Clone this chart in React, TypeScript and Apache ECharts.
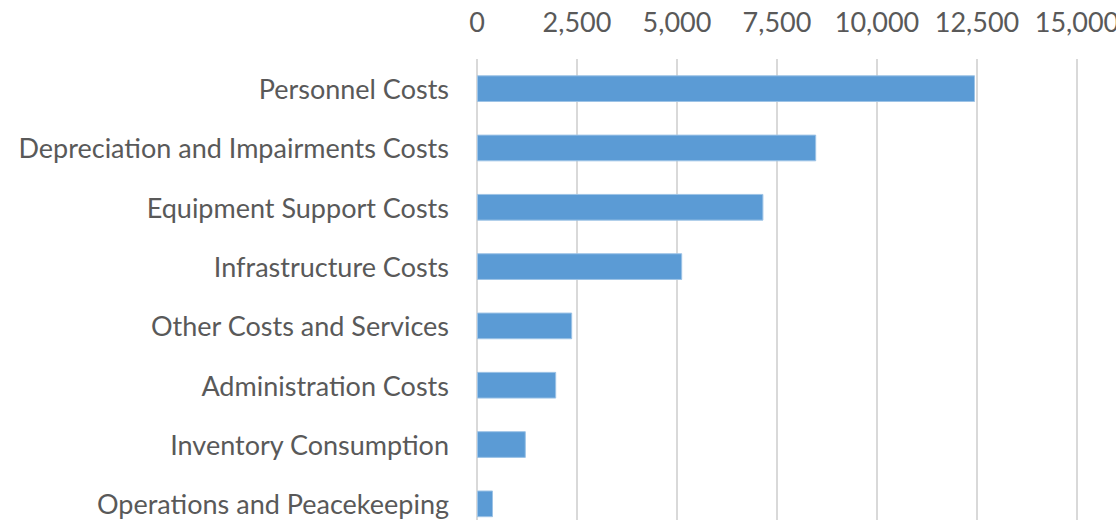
import React, { useEffect, useRef } from "react";
import * as echarts from "echarts";

const categories = [
  "Personnel Costs",
  "Depreciation and Impairments Costs",
  "Equipment Support Costs",
  "Infrastructure Costs",
  "Other Costs and Services",
  "Administration Costs",
  "Inventory Consumption",
  "Operations and Peacekeeping",
];
const values = [12450, 8480, 7160, 5130, 2380, 1980, 1220, 400];
const axisMin = 0;
const axisMax = 15000;
const axisStep = 2500;

const FONT = "Lato";

export default function App() {
  const ref = useRef<HTMLDivElement>(null);
  useEffect(() => {
    if (!ref.current) return;
    const chart = echarts.init(ref.current, undefined, { renderer: "svg" });
    chart.setOption({
      animation: false,
      backgroundColor: "#ffffff",
      grid: {
        left: 477,
        right: 39,
        top: 59,
        height: 474.5,
        containLabel: false,
        outerBoundsMode: "none",
      },
      xAxis: {
        type: "value",
        position: "top",
        min: axisMin,
        max: axisMax,
        interval: axisStep,
        axisLine: { show: false },
        axisTick: { show: false },
        splitLine: { show: true, lineStyle: { color: "#d9d9d9", width: 2 } },
        axisLabel: {
          color: "#595959",
          fontFamily: FONT,
          fontSize: 27,
          margin: 24,
          formatter: (v: number) => v.toLocaleString("en-US"),
        },
      },
      yAxis: {
        type: "category",
        data: categories,
        inverse: true,
        axisLine: { show: false },
        axisTick: { show: false },
        axisLabel: {
          color: "#595959",
          fontFamily: FONT,
          fontSize: 27,
          margin: 28,
        },
      },
      series: [
        {
          type: "bar",
          data: values,
          barWidth: "45%",
          itemStyle: { color: "#5b9bd5", borderColor: "#9dc3e6", borderWidth: 1 },
        },
      ],
    });
    return () => chart.dispose();
  }, []);
  return (
    <div
      ref={ref}
      style={{ position: "fixed", left: 0, top: 0, width: 1116, height: 520 }}
    />
  );
}
